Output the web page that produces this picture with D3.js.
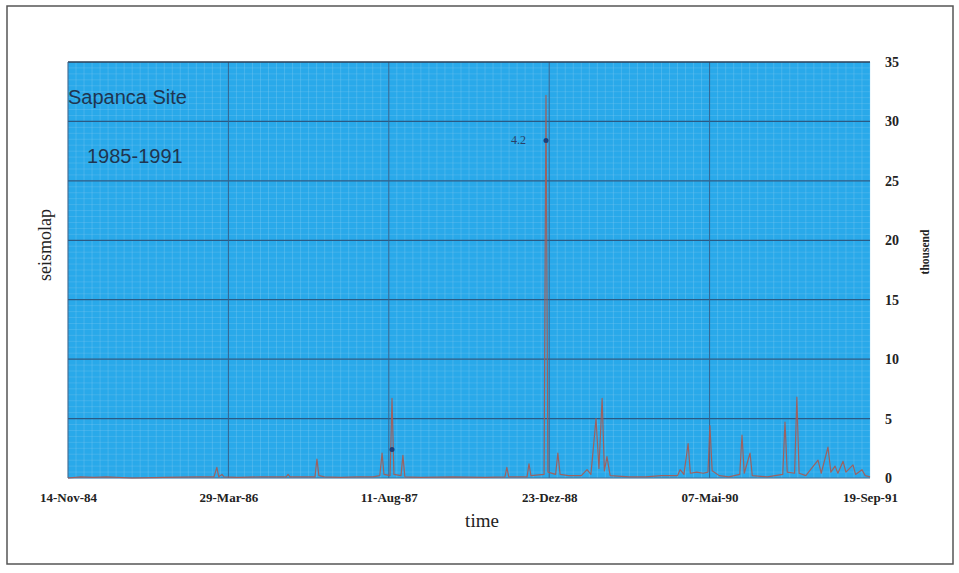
<!DOCTYPE html>
<html>
<head>
<meta charset="utf-8">
<script src="https://cdn.jsdelivr.net/npm/d3@7"></script>
<style>
  html, body { margin: 0; padding: 0; background: #fff; }
  svg { display: block; }
</style>
</head>
<body>
<svg id="chart" width="959" height="573"></svg>
<script>
// ---- data ----
// x = days since 14-Nov-84, y = thousand
const tickDays = [0, 500, 1000, 1500, 2000, 2500];
const tickLabels = ["14-Nov-84", "29-Mar-86", "11-Aug-87", "23-Dez-88", "07-Mai-90", "19-Sep-91"];
const yTicks = [0, 5, 10, 15, 20, 25, 30, 35];
const dayOffsets = [0, 40, 80, 120, 200, 300, 400, 455, 464, 470, 480, 486, 530, 600, 680, 686, 692, 770, 776, 782,
  800, 850, 900, 950, 972, 979, 985, 1004, 1010, 1016, 1038, 1044, 1050, 1100, 1200, 1300, 1362, 1368, 1374,
  1431, 1437, 1443, 1484, 1490, 1496, 1520, 1527, 1534, 1560, 1600, 1618, 1630, 1646, 1655, 1665, 1672, 1680,
  1690, 1750, 1800, 1850, 1900, 1908, 1920, 1933, 1940, 1960, 1980, 1995, 2001, 2008, 2030, 2060, 2094, 2101,
  2108, 2126, 2133, 2180, 2228, 2235, 2242, 2265, 2272, 2279, 2300, 2338, 2348, 2369, 2378, 2391, 2400, 2416,
  2425, 2447, 2455, 2475, 2485, 2500];
const thousands = [0, 0.1, 0.05, 0.1, 0, 0.05, 0.1, 0.1, 0.9, 0.1, 0.3, 0.1, 0.05, 0.1, 0.1, 0.3, 0.1, 0.1, 1.6, 0.2,
  0.1, 0.05, 0.1, 0.1, 0.2, 2.1, 0.3, 0.2, 6.7, 0.3, 0.2, 1.9, 0.1, 0.05, 0.1, 0.05, 0.1, 0.9, 0.1,
  0.1, 1.2, 0.2, 0.3, 32.2, 0.5, 0.3, 2.1, 0.3, 0.2, 0.2, 0.7, 0.3, 5.0, 0.8, 6.7, 0.6, 1.8,
  0.2, 0.1, 0.1, 0.2, 0.2, 0.7, 0.3, 2.9, 0.4, 0.5, 0.4, 0.5, 4.4, 0.6, 0.2, 0.1, 0.3, 3.6,
  0.4, 2.1, 0.2, 0.1, 0.3, 4.7, 0.5, 0.4, 6.8, 0.4, 0.2, 1.5, 0.4, 2.6, 0.5, 1.0, 0.4, 1.4,
  0.5, 1.1, 0.3, 0.7, 0.2, 0.1];
const markerDays = [1010, 1490];
const markerValues = [2.4, 28.4];
const markerLabels = ["", "4.2"];

// ---- layout ----
const svg = d3.select("#chart");
const L = 68, R = 870, T = 62, B = 478;
const x = d3.scaleLinear().domain([0, 2500]).range([L, R]);
const y = d3.scaleLinear().domain([0, 35]).range([B, T]);

// outer frame
svg.append("rect").attr("x", 7).attr("y", 6).attr("width", 946).attr("height", 558)
  .attr("fill", "none").attr("stroke", "#555").attr("stroke-width", 1.5);

// plot background
svg.append("rect").attr("x", L).attr("y", T).attr("width", R - L).attr("height", B - T)
  .attr("fill", "#29a9ea");

// minor grid
const minorX = d3.range(0, 2501, 25);
const minorY = d3.range(0, 35.01, 0.5);
svg.append("g").selectAll("line").data(minorX).join("line")
  .attr("x1", d => x(d)).attr("x2", d => x(d)).attr("y1", T).attr("y2", B)
  .attr("stroke", "#8fd0f2").attr("stroke-opacity", 0.3).attr("stroke-width", 1);
svg.append("g").selectAll("line").data(minorY).join("line")
  .attr("y1", d => y(d)).attr("y2", d => y(d)).attr("x1", L).attr("x2", R)
  .attr("stroke", "#8fd0f2").attr("stroke-opacity", 0.25).attr("stroke-width", 1);

// major grid
svg.append("g").selectAll("line").data(yTicks.filter(d => d > 0 && d < 35)).join("line")
  .attr("y1", d => y(d)).attr("y2", d => y(d)).attr("x1", L).attr("x2", R)
  .attr("stroke", "#2b5a84").attr("stroke-width", 1.2);
svg.append("g").selectAll("line").data(tickDays.filter(d => d > 0 && d < 2500)).join("line")
  .attr("x1", d => x(d)).attr("x2", d => x(d)).attr("y1", T).attr("y2", B)
  .attr("stroke", "#33628e").attr("stroke-width", 1);

// plot frame lines
svg.append("line").attr("x1", L).attr("x2", R).attr("y1", T).attr("y2", T)
  .attr("stroke", "#2c3e55").attr("stroke-width", 1.5);
svg.append("line").attr("x1", L).attr("x2", L).attr("y1", T).attr("y2", B)
  .attr("stroke", "#3a5f85").attr("stroke-width", 1);
svg.append("line").attr("x1", L).attr("x2", R).attr("y1", B).attr("y2", B)
  .attr("stroke", "#3a6a95").attr("stroke-width", 1);

// series line
const pts = dayOffsets.map((d, i) => [d, thousands[i]]);
svg.append("path").datum(pts)
  .attr("d", d3.line().x(d => x(d[0])).y(d => y(d[1])))
  .attr("fill", "none").attr("stroke", "#a85a52").attr("stroke-width", 1.2)
  .attr("stroke-opacity", 0.9).attr("stroke-linejoin", "round");

// markers
const mk = markerDays.map((d, i) => ({ d, v: markerValues[i], t: markerLabels[i] }));
svg.append("g").selectAll("circle").data(mk).join("circle")
  .attr("cx", m => x(m.d)).attr("cy", m => y(m.v)).attr("r", 2.5).attr("fill", "#1f3f78");
svg.append("g").selectAll("text").data(mk.filter(m => m.t)).join("text")
  .attr("x", m => x(m.d) - 20).attr("y", m => y(m.v) + 4)
  .attr("text-anchor", "end")
  .attr("font-family", "Liberation Serif, serif").attr("font-size", 12).attr("fill", "#2a3f66")
  .text(m => m.t);

// right y axis
const yAxis = d3.axisRight(y).tickValues(yTicks).tickSize(0).tickPadding(0).tickFormat(d3.format("d"));
const ya = svg.append("g").attr("transform", `translate(${R + 15},0)`).call(yAxis);
ya.select(".domain").remove();
ya.selectAll("text").attr("font-family", "Liberation Serif, serif").attr("font-size", 14)
  .attr("font-weight", "bold").attr("fill", "#222");

// bottom x axis
const xAxis = d3.axisBottom(x).tickValues(tickDays).tickSize(0).tickPadding(0)
  .tickFormat((d, i) => tickLabels[i]);
const xa = svg.append("g").attr("transform", `translate(0,${B + 15})`).call(xAxis);
xa.select(".domain").remove();
xa.selectAll("text").attr("font-family", "Liberation Serif, serif").attr("font-size", 13)
  .attr("font-weight", "bold").attr("fill", "#222");

// axis titles
svg.append("text").attr("x", 482).attr("y", 527).attr("text-anchor", "middle")
  .attr("font-family", "Liberation Serif, serif").attr("font-size", 19).attr("fill", "#222")
  .text("time");
svg.append("text").attr("transform", "translate(51,245) rotate(-90)").attr("text-anchor", "middle")
  .attr("font-family", "Liberation Serif, serif").attr("font-size", 18).attr("fill", "#222")
  .text("seismolap");
svg.append("text").attr("transform", "translate(929,252) rotate(-90)").attr("text-anchor", "middle")
  .attr("font-family", "Liberation Serif, serif").attr("font-size", 11.5).attr("font-weight", "bold").attr("fill", "#222")
  .text("thousend");

// in-plot titles
svg.append("text").attr("x", 68).attr("y", 104)
  .attr("font-family", "Liberation Sans, Arial, sans-serif").attr("font-size", 20).attr("fill", "#1f3550")
  .text("Sapanca Site");
svg.append("text").attr("x", 87).attr("y", 163)
  .attr("font-family", "Liberation Sans, Arial, sans-serif").attr("font-size", 20).attr("fill", "#1f3550")
  .text("1985-1991");
</script>
</body>
</html>
